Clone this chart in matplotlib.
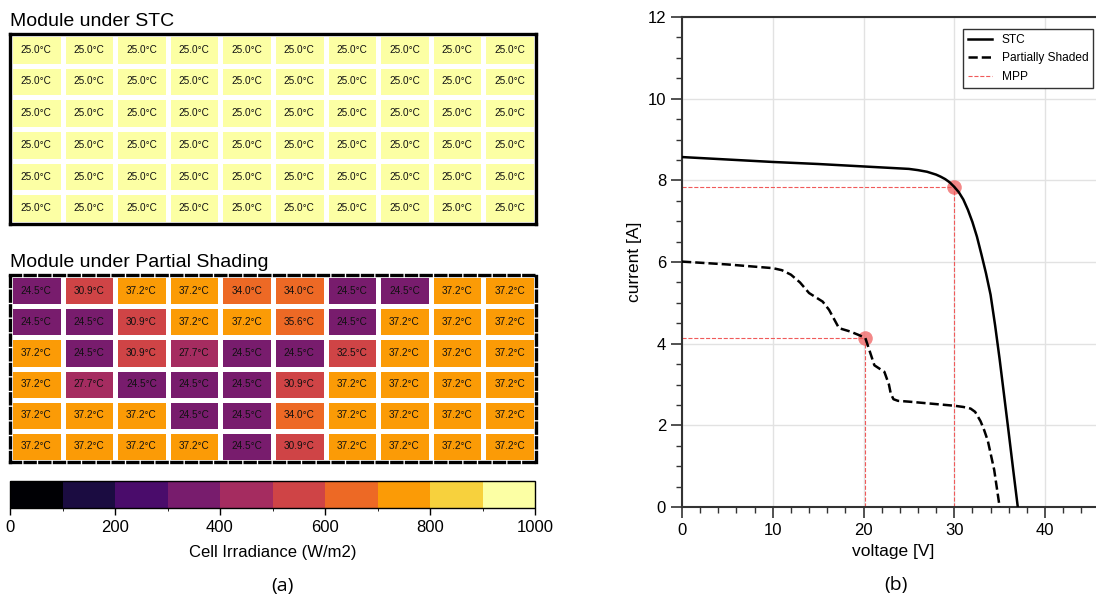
import numpy as np
import matplotlib.pyplot as plt
from matplotlib.colors import BoundaryNorm
from matplotlib.cm import ScalarMappable
from matplotlib.ticker import MultipleLocator

plt.rcParams['font.family'] = ['Liberation Sans', 'DejaVu Sans']

# --- module maps: cell irradiance (W/m2) and cell temperature (deg C), 6 rows x 10 cols
stc_irr = [
    [1000, 1000, 1000, 1000, 1000, 1000, 1000, 1000, 1000, 1000],
    [1000, 1000, 1000, 1000, 1000, 1000, 1000, 1000, 1000, 1000],
    [1000, 1000, 1000, 1000, 1000, 1000, 1000, 1000, 1000, 1000],
    [1000, 1000, 1000, 1000, 1000, 1000, 1000, 1000, 1000, 1000],
    [1000, 1000, 1000, 1000, 1000, 1000, 1000, 1000, 1000, 1000],
    [1000, 1000, 1000, 1000, 1000, 1000, 1000, 1000, 1000, 1000],
]
stc_temp = [
    [25.0, 25.0, 25.0, 25.0, 25.0, 25.0, 25.0, 25.0, 25.0, 25.0],
    [25.0, 25.0, 25.0, 25.0, 25.0, 25.0, 25.0, 25.0, 25.0, 25.0],
    [25.0, 25.0, 25.0, 25.0, 25.0, 25.0, 25.0, 25.0, 25.0, 25.0],
    [25.0, 25.0, 25.0, 25.0, 25.0, 25.0, 25.0, 25.0, 25.0, 25.0],
    [25.0, 25.0, 25.0, 25.0, 25.0, 25.0, 25.0, 25.0, 25.0, 25.0],
    [25.0, 25.0, 25.0, 25.0, 25.0, 25.0, 25.0, 25.0, 25.0, 25.0],
]
shaded_irr = [
    [300, 500, 700, 700, 600, 600, 300, 300, 700, 700],
    [300, 300, 500, 700, 700, 650, 300, 700, 700, 700],
    [700, 300, 500, 400, 300, 300, 550, 700, 700, 700],
    [700, 400, 300, 300, 300, 500, 700, 700, 700, 700],
    [700, 700, 700, 300, 300, 600, 700, 700, 700, 700],
    [700, 700, 700, 700, 300, 500, 700, 700, 700, 700],
]
shaded_temp = [
    [24.5, 30.9, 37.2, 37.2, 34.0, 34.0, 24.5, 24.5, 37.2, 37.2],
    [24.5, 24.5, 30.9, 37.2, 37.2, 35.6, 24.5, 37.2, 37.2, 37.2],
    [37.2, 24.5, 30.9, 27.7, 24.5, 24.5, 32.5, 37.2, 37.2, 37.2],
    [37.2, 27.7, 24.5, 24.5, 24.5, 30.9, 37.2, 37.2, 37.2, 37.2],
    [37.2, 37.2, 37.2, 24.5, 24.5, 34.0, 37.2, 37.2, 37.2, 37.2],
    [37.2, 37.2, 37.2, 37.2, 24.5, 30.9, 37.2, 37.2, 37.2, 37.2],
]
irr_bounds = [0, 100, 200, 300, 400, 500, 600, 700, 800, 900, 1000]
irr_ticks = [0, 200, 400, 600, 800, 1000]

# --- IV curves
stc_v = [0, 5, 10, 15, 20, 25, 26, 27, 28, 28.5, 29, 29.5, 30, 30.5, 31, 31.5,
         32, 32.5, 33, 33.5, 34, 34.5, 35, 35.5, 36, 36.5, 37]
stc_i = [8.57, 8.51, 8.45, 8.40, 8.34, 8.28, 8.25, 8.21, 8.14, 8.09, 8.03, 7.95,
         7.84, 7.71, 7.53, 7.28, 6.98, 6.62, 6.18, 5.72, 5.20, 4.45, 3.62, 2.72,
         1.82, 0.90, 0.0]
shaded_v = [0, 5, 10, 11, 12, 13, 14, 15.5, 16.2, 17.3, 18.5, 19.5, 20.2, 21.2,
            22.3, 22.8, 23.0, 23.3, 23.8, 25, 30, 31, 31.8, 32.3, 32.9, 33.3,
            33.7, 34.4, 35.0]
shaded_i = [6.01, 5.94, 5.85, 5.80, 5.69, 5.50, 5.24, 5.03, 4.83, 4.38, 4.30,
            4.21, 4.14, 3.47, 3.31, 3.0, 2.78, 2.64, 2.60, 2.58, 2.48, 2.45,
            2.41, 2.33, 2.10, 1.88, 1.62, 0.91, 0.0]
mpp_v = [30.0, 20.2]
mpp_i = [7.84, 4.14]

W, H = 1096, 598
fig = plt.figure(figsize=(W / 100, H / 100), dpi=100)

cmap = plt.get_cmap('inferno', 10)
norm = BoundaryNorm(irr_bounds, 10)


def px(x0, y0, x1, y1):
    # pixel box (top-left origin) -> figure fraction rect
    return [x0 / W, (H - y1) / H, (x1 - x0) / W, (y1 - y0) / H]


def module(ax, irr, temp, title, dashed):
    irr = np.array(irr)
    ax.pcolormesh(irr, cmap=cmap, norm=norm, edgecolors='white', linewidth=2.4)
    for r, row in enumerate(temp):
        for c, t in enumerate(row):
            ax.text(c + 0.5, r + 0.5, f'{t:.1f}°C', ha='center', va='center',
                    fontsize=7.2, color='#111111')
    ax.set_xlim(0, irr.shape[1])
    ax.set_ylim(irr.shape[0], 0)
    ax.set_xticks([])
    ax.set_yticks([])
    for s in ax.spines.values():
        s.set_linewidth(2.4)
        s.set_color('black')
        if dashed:
            s.set_linestyle((0, (3, 1.4)))
    ax.set_title(title, loc='left', fontsize=14, pad=6)


ax_stc = fig.add_axes(px(10, 34, 536, 224))
module(ax_stc, stc_irr, stc_temp, 'Module under STC', False)
ax_sh = fig.add_axes(px(10, 275, 536, 462))
module(ax_sh, shaded_irr, shaded_temp, 'Module under Partial Shading', True)

cax = fig.add_axes(px(10, 481, 535, 508))
cb = fig.colorbar(ScalarMappable(norm=norm, cmap=cmap), cax=cax,
                  orientation='horizontal', ticks=irr_ticks)
cb.outline.set_linewidth(1)
cax.tick_params(labelsize=12, length=5, width=1)
cax.set_xlabel('Cell Irradiance (W/m2)', fontsize=12, labelpad=7)

# --- IV plot
ax = fig.add_axes(px(682, 17, 1104, 507))
for v, i in zip(mpp_v, mpp_i):
    ax.plot(v, i, 'o', color='#f06a6a', alpha=0.8, ms=10.5, mec='none', zorder=1.5)
ax.plot(stc_v, stc_i, color='black', lw=1.8, label='STC', zorder=3)
ax.plot(shaded_v, shaded_i, color='black', lw=1.8, ls='--',
        label='Partially Shaded', zorder=3)
for k, (v, i) in enumerate(zip(mpp_v, mpp_i)):
    ax.plot([0, v], [i, i], color='#f05a5a', ls='--', lw=0.8,
            label='MPP' if k == 0 else None, zorder=2)
    ax.plot([v, v], [0, i], color='#f05a5a', ls='--', lw=0.8, zorder=2)

ax.set_xlim(0, 46.5)
ax.set_ylim(0, 12)
ax.set_xticks([0, 10, 20, 30, 40])
ax.set_yticks([0, 2, 4, 6, 8, 10, 12])
ax.xaxis.set_minor_locator(MultipleLocator(2))
ax.yaxis.set_minor_locator(MultipleLocator(0.5))
ax.tick_params(which='major', direction='out', length=8, width=1.2,
               labelsize=12, color='#333333')
ax.tick_params(which='minor', direction='out', length=4, width=1,
               color='#333333')
ax.grid(True, which='major', color='#e2e2e2', lw=1)
ax.set_axisbelow(True)
for s in ax.spines.values():
    s.set_linewidth(1.5)
    s.set_color('#333333')
ax.set_xlabel('voltage [V]', fontsize=12.5)
ax.set_ylabel('current [A]', fontsize=12.5)
leg = ax.legend(loc='upper right', bbox_to_anchor=(1093 / W, (H - 29) / H),
                bbox_transform=fig.transFigure, borderaxespad=0, fontsize=8.6,
                labelspacing=0.55, fancybox=False, framealpha=1,
                edgecolor='#333333')
leg.get_frame().set_linewidth(1)

fig.text(282 / W, (H - 586) / H, '(a)', ha='center', va='center',
         fontsize=14, family='Open Sans')
fig.text(896 / W, (H - 585) / H, '(b)', ha='center', va='center',
         fontsize=14, family='Open Sans')

fig.savefig('out.png', dpi=100)
